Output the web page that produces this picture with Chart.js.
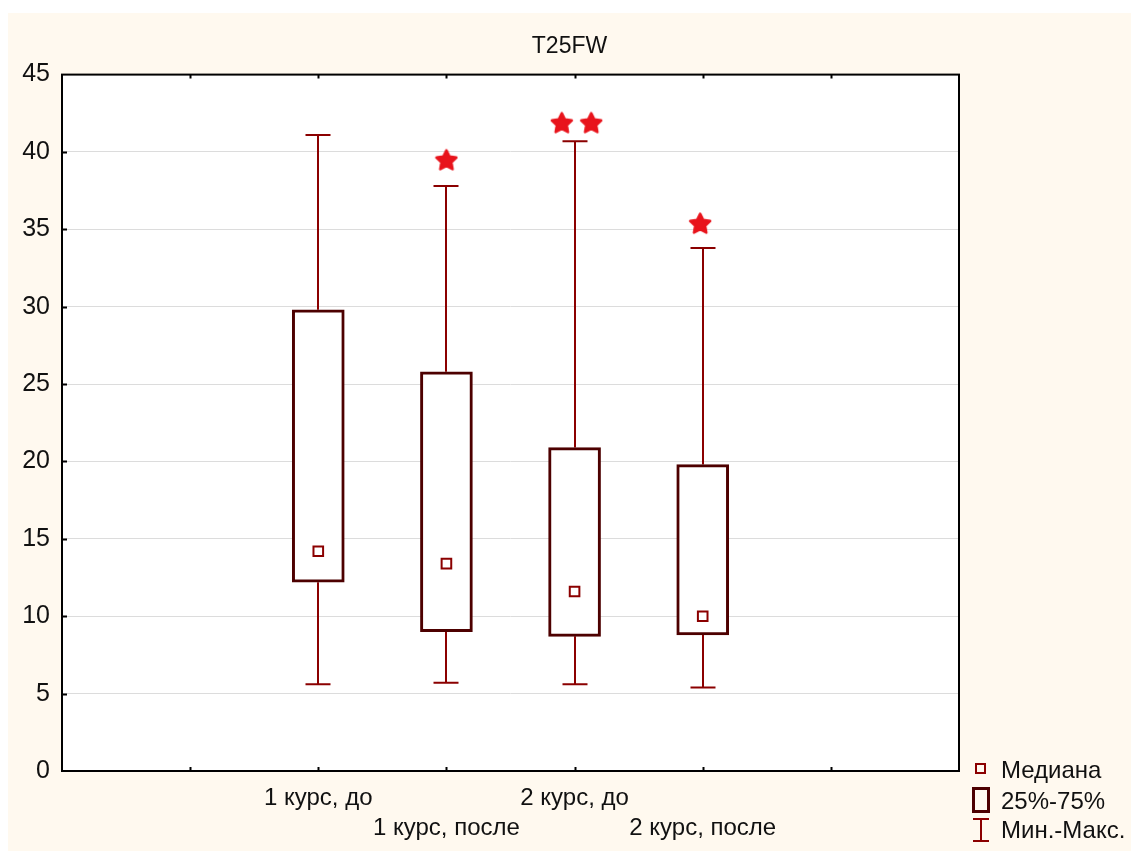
<!DOCTYPE html>
<html>
<head>
<meta charset="utf-8">
<script src="https://cdn.jsdelivr.net/npm/chart.js@4.4.0/dist/chart.umd.min.js"></script>
<style>
  html, body { margin: 0; background: #fff; }
  #wrap { position: absolute; left: 8px; top: 13px; width: 1123px; height: 838px; background: #fff9ef; }
  #wrap canvas { position: absolute; left: 0; top: 0; }
  .lg { position: absolute; left: 1001px; font: 24px "Liberation Sans", Arial, sans-serif; color: #111; line-height: 28px; }
  .sym { position: absolute; box-sizing: border-box; }
</style>
</head>
<body>
<div id="wrap"><canvas id="box" width="1123" height="838"></canvas></div>

<!-- legend -->
<div class="sym" style="left:975px;top:763px;width:11px;height:11px;border:2px solid #8b0000;"></div>
<div class="lg" style="top:756px;">Медиана</div>
<div class="sym" style="left:972px;top:787px;width:18px;height:26px;border:3px solid #4d0000;"></div>
<div class="lg" style="top:787px;">25%-75%</div>
<div class="sym" style="left:973px;top:818px;width:16px;height:2px;background:#8b0000;"></div>
<div class="sym" style="left:980px;top:818px;width:2px;height:24px;background:#8b0000;"></div>
<div class="sym" style="left:973px;top:840px;width:16px;height:2px;background:#8b0000;"></div>
<div class="lg" style="top:816px;">Мин.-Макс.</div>

<script>
'use strict';

// Box plot data (T25FW)
const groups = ['1 курс, до', '1 курс, после', '2 курс, до', '2 курс, после'];
const groupPos = [2, 3, 4, 5];
const mins = [5.6, 5.7, 5.6, 5.4];
const q1 = [12.2, 9.0, 8.7, 8.8];
const medians = [14.2, 13.4, 11.6, 10.0];
const q3 = [29.8, 25.8, 20.9, 19.8];
const maxs = [41.1, 37.8, 40.7, 33.8];

// outliers (stars): group index, small horizontal jitter, value
const outlierGroup = [1, 2, 2, 3];
const outlierJitter = [0, -0.1, 0.13, -0.02];
const outlierValues = [39.5, 41.9, 41.9, 35.4];

const yTicks = [0, 5, 10, 15, 20, 25, 30, 35, 40, 45];
const xTicks = [1, 2, 3, 4, 5, 6];

const FONT = '"Liberation Sans", Arial, sans-serif';
const WHISKER = '#8b0000';
const BOXLINE = '#4d0000';

function makeStar(size, color) {
  const c = document.createElement('canvas');
  c.width = size;
  c.height = size;
  const g = c.getContext('2d');
  const R = size / 2 - 1.5;
  const r = R * 0.5;
  const cx = size / 2, cy = size / 2 + 1;
  g.beginPath();
  for (let i = 0; i < 10; i++) {
    const a = -Math.PI / 2 + i * Math.PI / 5;
    const rad = i % 2 ? r : R;
    g.lineTo(cx + rad * Math.cos(a), cy + rad * Math.sin(a));
  }
  g.closePath();
  g.fillStyle = color;
  g.fill();
  g.lineJoin = 'round';
  g.lineWidth = 2.5;
  g.strokeStyle = color;
  g.stroke();
  return c;
}

// white plot area, whiskers, black frame with inward ticks
const boxPlotPlugin = {
  id: 'boxPlot',
  beforeDraw(chart) {
    const a = chart.chartArea;
    const ctx = chart.ctx;
    ctx.save();
    ctx.fillStyle = '#fff';
    ctx.fillRect(a.left, a.top, a.right - a.left, a.bottom - a.top);
    ctx.restore();
  },
  beforeDatasetsDraw(chart) {
    const xs = chart.scales.x, ys = chart.scales.y;
    const ctx = chart.ctx;
    ctx.save();
    ctx.strokeStyle = WHISKER;
    ctx.lineWidth = 2;
    groupPos.forEach((g, i) => {
      const x = Math.round(xs.getPixelForValue(g));
      const yMin = ys.getPixelForValue(mins[i]);
      const yMax = ys.getPixelForValue(maxs[i]);
      ctx.beginPath();
      ctx.moveTo(x, ys.getPixelForValue(q1[i]));
      ctx.lineTo(x, yMin);
      ctx.moveTo(x, ys.getPixelForValue(q3[i]));
      ctx.lineTo(x, yMax);
      ctx.moveTo(x - 12.5, yMin);
      ctx.lineTo(x + 12.5, yMin);
      ctx.moveTo(x - 12.5, yMax);
      ctx.lineTo(x + 12.5, yMax);
      ctx.stroke();
    });
    ctx.restore();
  },
  afterDraw(chart) {
    const a = chart.chartArea;
    const xs = chart.scales.x, ys = chart.scales.y;
    const ctx = chart.ctx;
    ctx.save();
    ctx.strokeStyle = '#000';
    ctx.lineWidth = 2;
    ctx.strokeRect(a.left, a.top, a.right - a.left, a.bottom - a.top);
    ctx.beginPath();
    yTicks.slice(1, -1).forEach(v => {
      const y = Math.round(ys.getPixelForValue(v)) + 0.5;
      ctx.moveTo(a.left, y);
      ctx.lineTo(a.left + 5, y);
    });
    xTicks.forEach(v => {
      const x = Math.round(xs.getPixelForValue(v)) + 0.5;
      ctx.moveTo(x, a.top);
      ctx.lineTo(x, a.top + 4);
      ctx.moveTo(x, a.bottom);
      ctx.lineTo(x, a.bottom - 4);
    });
    ctx.stroke();
    ctx.restore();
  },
};

const starImg = makeStar(24, '#e8141c');

new Chart(document.getElementById('box'), {
  type: 'scatter',
  data: {
    datasets: [
      {
        type: 'scatter',
        data: groupPos.map((x, i) => ({ x, y: medians[i] })),
        pointStyle: 'rect',
        pointRadius: 6.8,
        borderColor: WHISKER,
        borderWidth: 2,
        backgroundColor: '#fff',
        order: 0,
      },
      {
        type: 'scatter',
        data: outlierGroup.map((g, i) => ({ x: groupPos[g] + outlierJitter[i], y: outlierValues[i] })),
        pointStyle: starImg,
        order: 0,
      },
      {
        type: 'bar',
        data: groupPos.map((x, i) => ({ x, y: [q1[i], q3[i]] })),
        backgroundColor: '#fff',
        borderColor: BOXLINE,
        borderWidth: 3,
        borderSkipped: false,
        barThickness: 52,
        order: 1,
      },
    ],
  },
  options: {
    responsive: false,
    animation: false,
    events: [],
    layout: { padding: 0 },
    plugins: {
      legend: { display: false },
      tooltip: { enabled: false },
      title: {
        display: true,
        text: 'T25FW',
        color: '#111',
        font: { family: FONT, size: 23, weight: 'normal', lineHeight: 1.2 },
        padding: { top: 20, bottom: 14 },
      },
    },
    scales: {
      x: {
        type: 'linear',
        min: 0,
        max: 7,
        offset: false,
        grid: { display: false, drawTicks: false, offset: false },
        border: { display: false },
        afterBuildTicks: s => { s.ticks = xTicks.map(v => ({ value: v })); },
        afterFit: s => { s.height = 80; },
        ticks: {
          autoSkip: false,
          maxRotation: 0,
          padding: 12,
          color: '#111',
          font: { family: FONT, size: 24, lineHeight: 1.25 },
          callback: v => {
            const i = groupPos.indexOf(v);
            if (i < 0) return '';
            return i % 2 === 0 ? [groups[i], ''] : ['', groups[i]];
          },
        },
      },
      y: {
        min: 0,
        max: 45,
        grid: { color: '#dcdcdc', lineWidth: 1, drawTicks: false },
        border: { display: false },
        afterBuildTicks: s => { s.ticks = yTicks.map(v => ({ value: v })); },
        afterFit: s => { s.width = 54; },
        ticks: {
          padding: 12,
          color: '#111',
          font: { family: FONT, size: 25 },
        },
      },
      // empty right axis that only reserves room for the legend
      yRight: {
        position: 'right',
        min: 0,
        max: 45,
        grid: { display: false, drawTicks: false },
        border: { display: false },
        ticks: { display: false },
        afterFit: s => { s.width = 172; },
      },
    },
  },
  plugins: [boxPlotPlugin],
});
</script>
</body>
</html>
